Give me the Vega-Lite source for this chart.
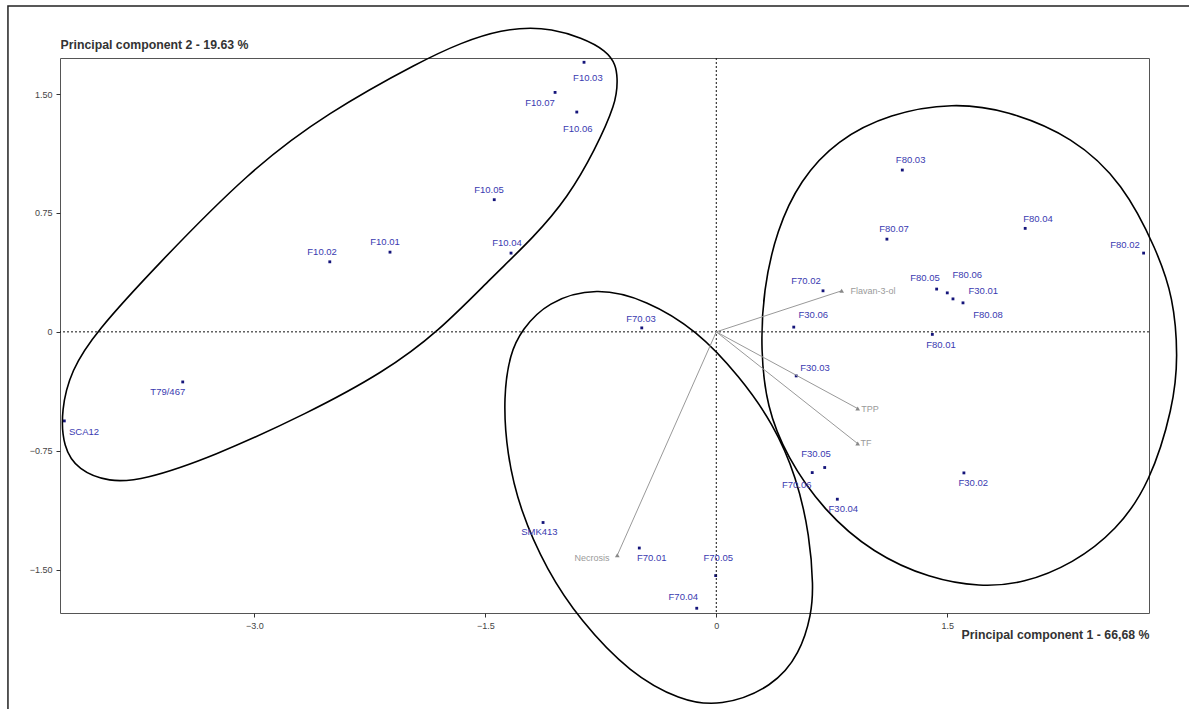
{
  "$schema": "https://vega.github.io/schema/vega-lite/v6.json",
  "width": 1089,
  "height": 555,
  "autosize": {"type": "none"},
  "padding": {"left": 60, "top": 58, "right": 40, "bottom": 96},
  "background": "white",
  "config": {
    "view": {"stroke": "#555555", "strokeWidth": 1},
    "font": "Liberation Sans"
  },
  "data": {"values": [{"k": 1}]},
  "datasets": {
    "points": [
      {"name": "F10.03", "x": -0.859, "y": 1.701, "lx": -0.834, "ly": 1.604},
      {"name": "F10.07", "x": -1.047, "y": 1.511, "lx": -1.145, "ly": 1.444},
      {"name": "F10.06", "x": -0.906, "y": 1.387, "lx": -0.9, "ly": 1.28},
      {"name": "F10.05", "x": -1.442, "y": 0.834, "lx": -1.476, "ly": 0.895},
      {"name": "F10.04", "x": -1.333, "y": 0.497, "lx": -1.359, "ly": 0.56},
      {"name": "F10.01", "x": -2.119, "y": 0.503, "lx": -2.151, "ly": 0.566},
      {"name": "F10.02", "x": -2.51, "y": 0.442, "lx": -2.56, "ly": 0.505},
      {"name": "T79/467", "x": -3.465, "y": -0.316, "lx": -3.562, "ly": -0.379},
      {"name": "SCA12", "x": -4.234, "y": -0.562, "lx": -4.106, "ly": -0.633},
      {"name": "F80.03", "x": 1.208, "y": 1.021, "lx": 1.262, "ly": 1.084},
      {"name": "F80.07", "x": 1.108, "y": 0.585, "lx": 1.154, "ly": 0.646},
      {"name": "F80.04", "x": 2.006, "y": 0.653, "lx": 2.089, "ly": 0.711},
      {"name": "F80.02", "x": 2.775, "y": 0.497, "lx": 2.654, "ly": 0.547},
      {"name": "F70.02", "x": 0.693, "y": 0.259, "lx": 0.582, "ly": 0.322},
      {"name": "F80.05", "x": 1.431, "y": 0.27, "lx": 1.355, "ly": 0.339},
      {"name": "F80.06", "x": 1.5, "y": 0.246, "lx": 1.63, "ly": 0.356},
      {"name": "F30.01", "x": 1.537, "y": 0.208, "lx": 1.734, "ly": 0.255},
      {"name": "F80.08", "x": 1.602, "y": 0.183, "lx": 1.764, "ly": 0.104},
      {"name": "F30.06", "x": 0.503, "y": 0.03, "lx": 0.63, "ly": 0.104},
      {"name": "F80.01", "x": 1.403, "y": -0.016, "lx": 1.459, "ly": -0.08},
      {"name": "F30.03", "x": 0.519, "y": -0.278, "lx": 0.641, "ly": -0.225},
      {"name": "F70.03", "x": -0.484, "y": 0.025, "lx": -0.489, "ly": 0.08},
      {"name": "F30.05", "x": 0.704, "y": -0.856, "lx": 0.647, "ly": -0.768},
      {"name": "F70.06", "x": 0.623, "y": -0.888, "lx": 0.522, "ly": -0.968},
      {"name": "F30.04", "x": 0.786, "y": -1.056, "lx": 0.825, "ly": -1.119},
      {"name": "F30.02", "x": 1.608, "y": -0.89, "lx": 1.669, "ly": -0.951},
      {"name": "SMK413", "x": -1.125, "y": -1.203, "lx": -1.149, "ly": -1.266},
      {"name": "F70.01", "x": -0.5, "y": -1.364, "lx": -0.419, "ly": -1.424},
      {"name": "F70.05", "x": -0.004, "y": -1.538, "lx": 0.013, "ly": -1.424},
      {"name": "F70.04", "x": -0.127, "y": -1.744, "lx": -0.214, "ly": -1.67}
    ],
    "variables": [
      {"name": "Flavan-3-ol", "x": 0.814, "y": 0.259, "lx": 1.018, "ly": 0.257},
      {"name": "TPP", "x": 0.918, "y": -0.484, "lx": 0.998, "ly": -0.488},
      {"name": "TF", "x": 0.918, "y": -0.705, "lx": 0.972, "ly": -0.703},
      {"name": "Necrosis", "x": -0.643, "y": -1.41, "lx": -0.807, "ly": -1.429}
    ],
    "ellipses": [
      {"g": "A", "i": 1, "x": -1.086, "y": 1.936},
      {"g": "A", "i": 2, "x": -0.664, "y": 1.779},
      {"g": "A", "i": 3, "x": -0.638, "y": 1.589},
      {"g": "A", "i": 4, "x": -0.651, "y": 1.444},
      {"g": "A", "i": 5, "x": -0.788, "y": 1.147},
      {"g": "A", "i": 6, "x": -0.963, "y": 0.85},
      {"g": "A", "i": 7, "x": -1.184, "y": 0.598},
      {"g": "A", "i": 8, "x": -1.457, "y": 0.345},
      {"g": "A", "i": 9, "x": -1.807, "y": -0.002},
      {"g": "A", "i": 10, "x": -2.158, "y": -0.254},
      {"g": "A", "i": 11, "x": -2.651, "y": -0.513},
      {"g": "A", "i": 12, "x": -3.275, "y": -0.791},
      {"g": "A", "i": 13, "x": -3.723, "y": -0.936},
      {"g": "A", "i": 14, "x": -3.943, "y": -0.949},
      {"g": "A", "i": 15, "x": -4.145, "y": -0.873},
      {"g": "A", "i": 16, "x": -4.242, "y": -0.729},
      {"g": "A", "i": 17, "x": -4.255, "y": -0.494},
      {"g": "A", "i": 18, "x": -4.19, "y": -0.242},
      {"g": "A", "i": 19, "x": -4.031, "y": -0.002},
      {"g": "A", "i": 20, "x": -3.645, "y": 0.408},
      {"g": "A", "i": 21, "x": -3.028, "y": 1.021},
      {"g": "A", "i": 22, "x": -2.528, "y": 1.381},
      {"g": "A", "i": 23, "x": -1.905, "y": 1.715},
      {"g": "A", "i": 24, "x": -1.658, "y": 1.823},
      {"g": "A", "i": 25, "x": -1.411, "y": 1.905},
      {"g": "B", "i": 1, "x": -0.777, "y": 0.284},
      {"g": "B", "i": 2, "x": -0.452, "y": 0.2},
      {"g": "B", "i": 3, "x": -0.127, "y": 0.011},
      {"g": "B", "i": 4, "x": 0.154, "y": -0.284},
      {"g": "B", "i": 5, "x": 0.368, "y": -0.576},
      {"g": "B", "i": 6, "x": 0.522, "y": -0.915},
      {"g": "B", "i": 7, "x": 0.608, "y": -1.294},
      {"g": "B", "i": 8, "x": 0.63, "y": -1.61},
      {"g": "B", "i": 9, "x": 0.619, "y": -1.778},
      {"g": "B", "i": 10, "x": 0.544, "y": -2.03},
      {"g": "B", "i": 11, "x": 0.37, "y": -2.241},
      {"g": "B", "i": 12, "x": 0.024, "y": -2.367},
      {"g": "B", "i": 13, "x": -0.236, "y": -2.325},
      {"g": "B", "i": 14, "x": -0.56, "y": -2.155},
      {"g": "B", "i": 15, "x": -0.885, "y": -1.82},
      {"g": "B", "i": 16, "x": -1.101, "y": -1.504},
      {"g": "B", "i": 17, "x": -1.275, "y": -1.126},
      {"g": "B", "i": 18, "x": -1.361, "y": -0.768},
      {"g": "B", "i": 19, "x": -1.383, "y": -0.41},
      {"g": "B", "i": 20, "x": -1.34, "y": -0.136},
      {"g": "B", "i": 21, "x": -1.264, "y": 0.011},
      {"g": "B", "i": 22, "x": -1.101, "y": 0.189},
      {"g": "C", "i": 1, "x": 1.539, "y": 1.446},
      {"g": "C", "i": 2, "x": 1.886, "y": 1.4},
      {"g": "C", "i": 3, "x": 2.318, "y": 1.231},
      {"g": "C", "i": 4, "x": 2.643, "y": 0.937},
      {"g": "C", "i": 5, "x": 2.86, "y": 0.516},
      {"g": "C", "i": 6, "x": 2.968, "y": 0.221},
      {"g": "C", "i": 7, "x": 3.0, "y": -0.158},
      {"g": "C", "i": 8, "x": 2.968, "y": -0.473},
      {"g": "C", "i": 9, "x": 2.816, "y": -0.957},
      {"g": "C", "i": 10, "x": 2.6, "y": -1.252},
      {"g": "C", "i": 11, "x": 2.318, "y": -1.462},
      {"g": "C", "i": 12, "x": 1.994, "y": -1.588},
      {"g": "C", "i": 13, "x": 1.712, "y": -1.61},
      {"g": "C", "i": 14, "x": 1.388, "y": -1.557},
      {"g": "C", "i": 15, "x": 1.019, "y": -1.399},
      {"g": "C", "i": 16, "x": 0.695, "y": -1.126},
      {"g": "C", "i": 17, "x": 0.457, "y": -0.789},
      {"g": "C", "i": 18, "x": 0.327, "y": -0.473},
      {"g": "C", "i": 19, "x": 0.288, "y": -0.116},
      {"g": "C", "i": 20, "x": 0.305, "y": 0.263},
      {"g": "C", "i": 21, "x": 0.392, "y": 0.642},
      {"g": "C", "i": 22, "x": 0.544, "y": 0.958},
      {"g": "C", "i": 23, "x": 0.782, "y": 1.21},
      {"g": "C", "i": 24, "x": 1.128, "y": 1.379}
    ]
  },
  "layer": [
    {
      "data": {"name": "points"},
      "mark": {"type": "point", "shape": "square", "filled": true, "size": 8, "color": "#14147a", "opacity": 1, "clip": false},
      "encoding": {
        "x": {"field": "x", "type": "quantitative", "scale": {"domain": [-4.262, 2.81], "nice": false, "zero": false},
          "axis": {
            "values": [-3, -1.5, 0, 1.5],
            "labelExpr": "datum.value == 0 ? '0' : format(datum.value, '.1f')",
            "domain": false, "grid": false,
            "tickSize": 4, "tickColor": "#333333",
            "labelFontSize": 9, "labelColor": "#444444", "labelPadding": 4,
            "title": "Principal component 1 - 66,68 %",
            "titleFontSize": 12.3, "titleFontWeight": "bold", "titleColor": "#333333",
            "titleAnchor": "end", "titleAlign": "right", "titleX": 1089, "titleY": 21, "titleBaseline": "middle"
          }},
        "y": {"field": "y", "type": "quantitative", "scale": {"domain": [-1.774, 1.728], "nice": false, "zero": false},
          "axis": {
            "values": [-1.5, -0.75, 0, 0.75, 1.5],
            "labelExpr": "datum.value == 0 ? '0' : format(datum.value, '.2f')",
            "domain": false, "grid": false,
            "tickSize": 4, "tickColor": "#333333",
            "labelFontSize": 9, "labelColor": "#444444", "labelPadding": 4,
            "title": "Principal component 2 - 19.63 %",
            "titleFontSize": 12.3, "titleFontWeight": "bold", "titleColor": "#333333",
            "titleAngle": 0, "titleAnchor": "start", "titleAlign": "left", "titleX": 0, "titleY": -14, "titleBaseline": "middle"
          }}
      }
    },
    {
      "mark": {"type": "rule", "stroke": "#111111", "strokeDash": [2, 2], "strokeWidth": 1},
      "encoding": {"x": {"datum": 0, "type": "quantitative"}}
    },
    {
      "mark": {"type": "rule", "stroke": "#111111", "strokeDash": [2, 2], "strokeWidth": 1},
      "encoding": {"y": {"datum": 0, "type": "quantitative"}}
    },
    {
      "mark": {"type": "rect", "fill": "white", "fillOpacity": 0, "stroke": "#222222", "strokeWidth": 1.5, "clip": false},
      "encoding": {
        "x": {"datum": -4.6, "type": "quantitative"},
        "x2": {"datum": 4.2},
        "y": {"datum": 2.056, "type": "quantitative"},
        "y2": {"datum": -3.2}
      }
    },
    {
      "data": {"name": "ellipses"},
      "mark": {"type": "line", "interpolate": "basis-closed", "stroke": "#000000", "strokeWidth": 1.6, "clip": false},
      "encoding": {
        "x": {"field": "x", "type": "quantitative"},
        "y": {"field": "y", "type": "quantitative"},
        "detail": {"field": "g", "type": "nominal"},
        "order": {"field": "i", "type": "quantitative"}
      }
    },
    {
      "data": {"name": "variables"},
      "mark": {"type": "rule", "stroke": "#999999", "strokeWidth": 1},
      "encoding": {
        "x": {"field": "x", "type": "quantitative"},
        "y": {"field": "y", "type": "quantitative"},
        "x2": {"datum": 0},
        "y2": {"datum": 0}
      }
    },
    {
      "data": {"name": "variables"},
      "mark": {"type": "point", "shape": "triangle-up", "filled": true, "size": 22, "color": "#888888", "opacity": 1},
      "encoding": {
        "x": {"field": "x", "type": "quantitative"},
        "y": {"field": "y", "type": "quantitative"}
      }
    },
    {
      "data": {"name": "variables"},
      "mark": {"type": "text", "fontSize": 9, "color": "#9a9a9a", "align": "center", "baseline": "middle"},
      "encoding": {
        "x": {"field": "lx", "type": "quantitative"},
        "y": {"field": "ly", "type": "quantitative"},
        "text": {"field": "name", "type": "nominal"}
      }
    },
    {
      "data": {"name": "points"},
      "mark": {"type": "text", "fontSize": 9.5, "color": "#3a3ab0", "align": "center", "baseline": "middle", "clip": false},
      "encoding": {
        "x": {"field": "lx", "type": "quantitative"},
        "y": {"field": "ly", "type": "quantitative"},
        "text": {"field": "name", "type": "nominal"}
      }
    }
  ]
}
